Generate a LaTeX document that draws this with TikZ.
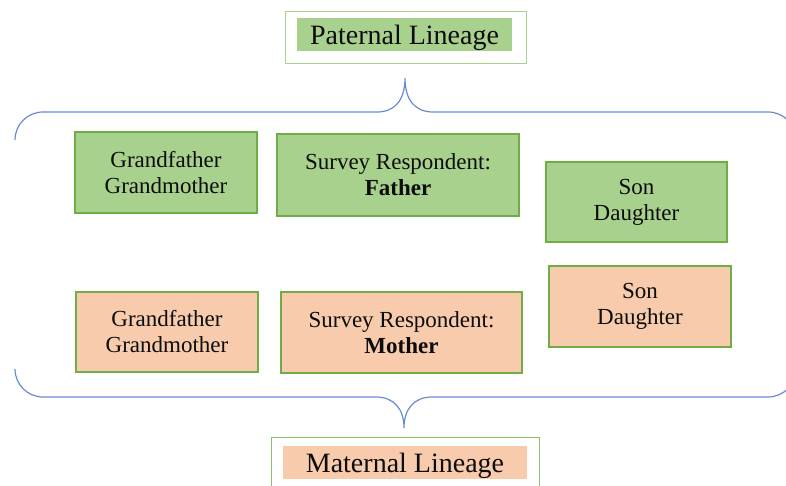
\documentclass[tikz,border=0pt]{standalone}
\usepackage{fontspec}
\setmainfont{Liberation Serif}
\definecolor{leafgreen}{HTML}{A9D18E}
\definecolor{edgegreen}{HTML}{70AD47}
\definecolor{paleedge}{HTML}{A9D18E}
\definecolor{midedge}{HTML}{8DBE6C}
\definecolor{peach}{HTML}{F8CBAD}
\definecolor{bracecol}{RGB}{104,138,208}
\definecolor{inkcol}{RGB}{12,12,12}
\tikzset{
  member/.style={draw=edgegreen, line width=2pt, align=center, inner sep=0pt,
    text=inkcol, font=\fontsize{23}{26}\selectfont},
  paternalbox/.style={member, fill=leafgreen},
  maternalbox/.style={member, fill=peach},
  lineageframe/.style={draw, line width=0.9pt, fill=white},
  lineagelabel/.style={inner sep=0pt, text=inkcol, font=\fontsize{28}{30}\selectfont},
  bracket/.style={draw=bracecol, line width=1.2pt}
}
\begin{document}
\begin{tikzpicture}[x=1pt,y=-1pt]
\useasboundingbox (0,0) rectangle (786,486);
\begin{scope}
\clip (0,0) rectangle (786,486);

% lineage titles
\node[lineageframe, draw=paleedge, minimum width=241pt, minimum height=52pt] (patframe) at (405.5,37) {};
\node[lineagelabel, fill=leafgreen, minimum width=215pt, text height=27pt, text depth=6pt] (patlabel) at (404.5,34.5) {Paternal Lineage};
\node[lineageframe, draw=midedge, minimum width=268pt, minimum height=70pt] (matframe) at (405,472) {};
\node[lineagelabel, fill=peach, minimum width=244pt, text height=26pt, text depth=7pt] (matlabel) at (405,462.5) {Maternal Lineage};

% upper bracket
\coordinate (toptip) at (405,78);
\draw[bracket] (15,140) .. controls (15,124.5) and (27.5,112) .. (43,112) -- (377,112)
  .. controls (395,112) and (405,100) .. (toptip)
  .. controls (405,100) and (415,112) .. (433,112) -- (768,112)
  .. controls (783.5,112) and (796,124.5) .. (796,140);

% lower bracket
\coordinate (bottip) at (404,428);
\draw[bracket] (15,369) .. controls (15,384.5) and (27.5,397) .. (43,397) -- (376,397)
  .. controls (394,397) and (404,409) .. (bottip)
  .. controls (404,409) and (414,397) .. (432,397) -- (768,397)
  .. controls (783.5,397) and (796,384.5) .. (796,369);

% paternal side
\node[paternalbox, minimum width=182pt, minimum height=81pt] (pgrand) at (166,172.5) {Grandfather\\Grandmother};
\node[paternalbox, minimum width=242pt, minimum height=82pt] (presp) at (398,175) {Survey Respondent:\\\textbf{Father}};
\node[paternalbox, minimum width=181pt, minimum height=80pt] (pchild) at (636.5,202) {Son\\Daughter};

% maternal side
\node[maternalbox, minimum width=182pt, minimum height=80pt] (mgrand) at (167,332) {Grandfather\\Grandmother};
\node[maternalbox, minimum width=241pt, minimum height=81pt] (mresp) at (401.5,332.5) {Survey Respondent:\\\textbf{Mother}};
\node[maternalbox, minimum width=182pt, minimum height=81pt] (mchild) at (640,306.5) {Son\\Daughter};
\end{scope}
\end{tikzpicture}
\end{document}
